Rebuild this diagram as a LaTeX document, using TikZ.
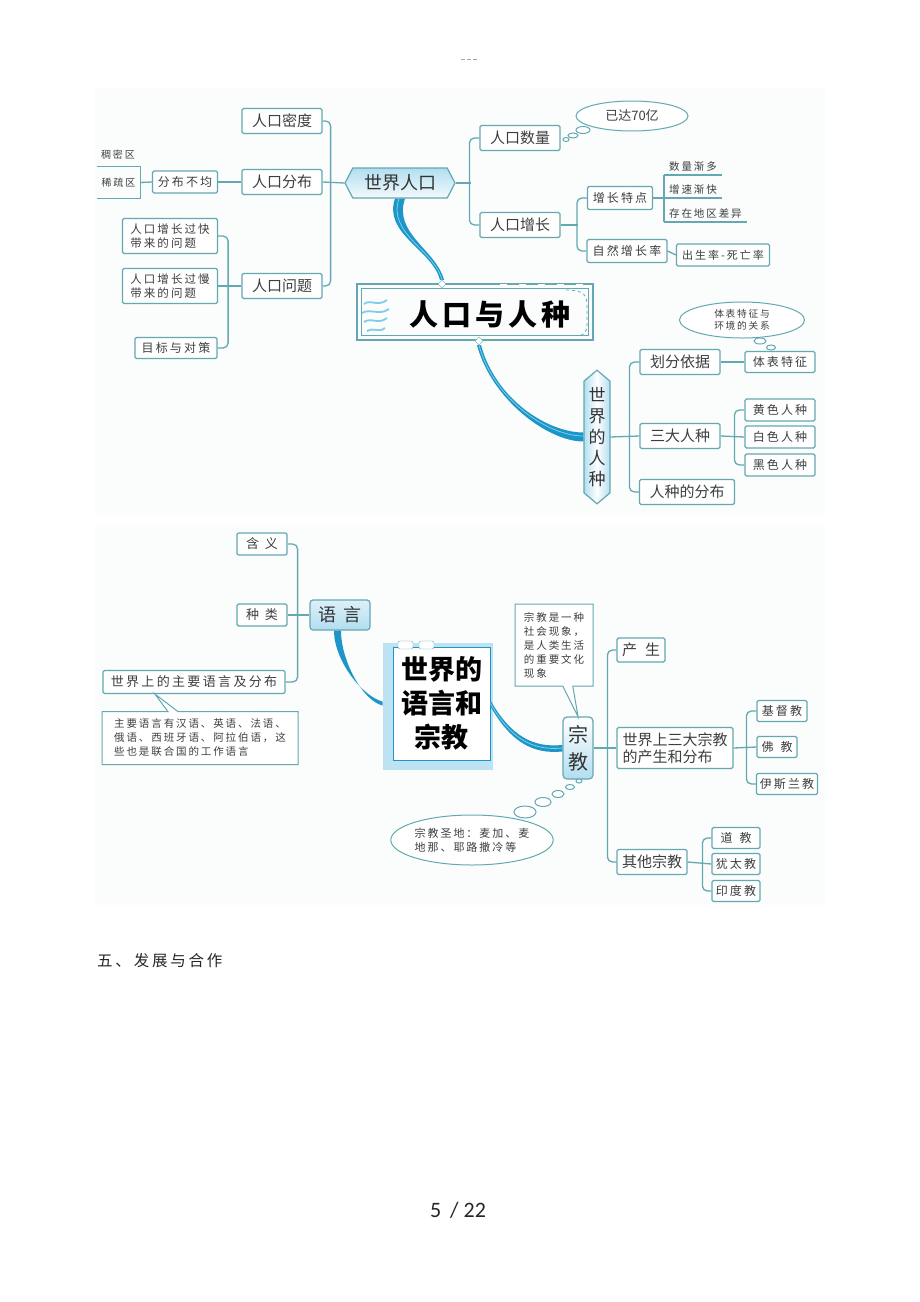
\documentclass[tikz,border=0pt]{standalone}
\usepackage{fontspec}
\setmainfont{Noto Sans CJK SC}
\newfontfamily\lsfont{Noto Sans CJK SC}[LetterSpace=18]
\newfontfamily\numfont{Carlito}
\usetikzlibrary{shapes.symbols,shapes.geometric,shapes.callouts}

\definecolor{linkc}{RGB}{100,168,178}
\definecolor{trunkc}{RGB}{28,150,200}
\definecolor{trunklt}{RGB}{125,205,235}
\definecolor{hubc}{RGB}{178,222,240}
\definecolor{panelc}{RGB}{251,252,252}
\definecolor{inkc}{RGB}{60,62,64}

\tikzset{
  leaf/.style={draw=linkc, line width=1.2pt, fill=white, rounded corners=1.5pt,
    text=inkc, inner sep=2pt, minimum height=25pt, font=\fontsize{15}{17}\selectfont},
  sleaf/.style={leaf, minimum height=22pt, font=\lsfont\fontsize{12}{14}\selectfont},
  hub/.style={draw=linkc, line width=1.2pt, text=black!80, font=\fontsize{18}{22}\selectfont},
  link/.style={draw=linkc, line width=1.3pt, rounded corners=5pt},
  trunk/.style={fill=trunkc},
  glint/.style={draw=trunklt, line width=0.8pt},
  bubble/.style={draw=linkc, line width=1pt, fill=white},
  uline/.style={anchor=south west, inner xsep=5pt, inner ysep=3pt, text=inkc,
    font=\lsfont\fontsize{10.5}{12}\selectfont},
  note/.style={rectangle callout, draw=linkc, line width=1pt, fill=white, text=inkc,
    callout pointer width=10pt, align=left, inner xsep=6pt,
    font=\lsfont\fontsize{10.5}{14}\selectfont},
}

\begin{document}
\begin{tikzpicture}[x=1pt, y=-1pt]
\useasboundingbox (0,0) rectangle (920,1302);

%Panels
\fill[panelc] (95,88) rectangle (825,515);
\fill[panelc] (95,525) rectangle (825,905);

%Header dash
\draw[black!35, line width=1pt, dash pattern=on 4pt off 2pt] (461,59) -- (479,59);

%World population hub
\node[hub, signal, signal to=east and west, signal pointer angle=125,
  minimum width=110pt, minimum height=30pt, top color=hubc, bottom color=white!85!hubc]
  (shijie) at (400,183) {世界人口};

%Left branch: density, distribution, problems
\node[leaf, minimum width=80pt] (midu) at (282,121) {人口密度};
\node[leaf, minimum width=80pt] (fenbu) at (282,182) {人口分布};
\node[leaf, minimum width=80pt] (wenti) at (282,286) {人口问题};
\node[sleaf, minimum width=65pt] (bujun) at (185,182) {分布不均};
\node[text=inkc, minimum width=43pt, minimum height=31pt, inner sep=0pt,
  font=\lsfont\fontsize{10}{12}\selectfont] (xishu) at (118.5,182.5) {稀疏区};
\draw[linkc, line width=1.2pt] (xishu.north west) -- (xishu.north east)
  -- (xishu.south east) -- (xishu.south west);
\node[text=inkc, font=\lsfont\fontsize{10}{12}\selectfont] (choumi) at (118,155) {稠密区};
\node[sleaf, align=left, minimum width=95pt, minimum height=35pt,
  font=\lsfont\fontsize{11.5}{14}\selectfont] (kuai) at (170,236) {人口增长过快\\带来的问题};
\node[sleaf, align=left, minimum width=95pt, minimum height=35pt,
  font=\lsfont\fontsize{11.5}{14}\selectfont] (man) at (170,286) {人口增长过慢\\带来的问题};
\node[sleaf, minimum width=82pt, minimum height=21pt] (duice) at (176,348) {目标与对策};

\draw[link] (midu.east) -- ++(8,0) |- (wenti.east);
\draw[link] (fenbu.east) -- (shijie.west);
\draw[link] (bujun.east) -- (fenbu.west);
\draw[link] (xishu.east) -- (bujun.west);
\draw[link] (kuai.east) -- ++(10,0) |- (duice.east);
\draw[link] (man.east) -- (wenti.west);

%Right branch: number and growth
\node[leaf, minimum width=80pt] (shuliang) at (520,138) {人口数量};
\node[leaf, minimum width=80pt] (zengzhang) at (520,225) {人口增长};
\node[ellipse, draw=linkc, line width=1pt, fill=white, minimum width=112pt, minimum height=30pt,
  text=inkc, font=\fontsize{13}{15}\selectfont] (qishi) at (632,116) {已达70亿};
\draw[bubble] (583,130) ellipse [x radius=7pt, y radius=3.5pt];
\draw[bubble] (573,135.5) ellipse [x radius=5pt, y radius=2.5pt];
\draw[bubble] (566,139.5) ellipse [x radius=3pt, y radius=2pt];
\node[sleaf, minimum width=65pt, minimum height=23pt] (tedian) at (620,198) {增长特点};
\node[sleaf, minimum width=80pt, minimum height=23pt] (zrate) at (627,251) {自然增长率};
\node[uline] (s1) at (664,175) {数量渐多};
\node[uline] (s2) at (664,198) {增速渐快};
\node[uline] (s3) at (664,222) {存在地区差异};
\node[sleaf, minimum width=93pt, font=\lsfont\fontsize{11}{13}\selectfont] (birth) at (723,255) {出生率-死亡率};

\draw[link] (shuliang.west) -- ++(-10,0) |- (zengzhang.west);
\draw[link] (shijie.east) -- ++(15,0);
\draw[link] (tedian.west) -- ++(-10,0) |- (zrate.west);
\draw[link] (zengzhang.east) -- ++(17,0);
\draw[link] (s1.south west) -- (s3.south west);
\draw[link] (s1.south west) -- (s1.south east);
\draw[link] (s2.south west) -- (s2.south east);
\draw[link] (s3.south west) -- (s3.south east);
\draw[link] (tedian.east) -- (s2.south west);
\draw[link] (zrate.east) -- (birth.west);

%Population and race title
\node[minimum width=235pt, minimum height=55pt, inner sep=0pt] (renkou) at (475,312) {};
\draw[linkc, line width=2.2pt] (renkou.north west) rectangle (renkou.south east);
\draw[linkc, line width=0.7pt] ([shift={(4,4)}]renkou.north west) rectangle ([shift={(-4,-4)}]renkou.south east);
\draw[white, line width=1.6pt, dash pattern=on 7pt off 12pt] (500,285) -- (590,285);
\draw[linkc, line width=0.8pt, dashed] (566,290) .. controls (585,290) and (587,296) .. (587,306)
  -- (587,325) .. controls (587,332) and (584,335) .. (578,336);
\draw[trunklt, line width=1.8pt] (364,304) .. controls (370,299) and (378,307) .. (387,300);
\draw[trunklt, line width=1.8pt] (362,313) .. controls (370,308) and (379,316) .. (389,309);
\draw[trunklt, line width=1.8pt] (364,322) .. controls (371,317) and (378,325) .. (387,318);
\draw[trunklt, line width=1.8pt] (367,331) .. controls (373,327) and (379,333) .. (385,328);
\node[text=black, font=\bfseries\fontsize{29}{31}\selectfont] (renkoutxt) at (490,314)
  {人\hspace{4pt}口\hspace{4pt}与\hspace{4pt}人\hspace{4pt}种};
\node[diamond, draw=linkc, fill=white, minimum size=8pt, inner sep=0pt] (dtop) at (442,284) {};
\node[diamond, draw=linkc, fill=white, minimum size=8pt, inner sep=0pt] (dbot) at (479,341) {};

%Race hub
\node[hub, signal, signal to=north and south, signal pointer angle=100, minimum width=26pt,
  minimum height=126pt, inner sep=0pt, left color=hubc, right color=hubc, middle color=white,
  align=center, font=\fontsize{17}{21}\selectfont] (ren) at (597,437) {世\\界\\的\\人\\种};

%Trunks to hubs
\fill[trunkc] ([xshift=-5pt]shijie.south) .. controls +(-12,35) and +(-8,-30) .. ([xshift=-2pt]dtop.north)
  -- ([xshift=2pt]dtop.north) .. controls +(-8,-30) and +(-12,35) .. ([xshift=5pt]shijie.south) -- cycle;
\draw[glint] ([xshift=-1pt]shijie.south) .. controls +(-12,35) and +(-8,-30) .. (dtop.north);
\fill[trunkc] ([xshift=-2pt]dbot.south) .. controls +(15,55) and +(-35,0) .. ([yshift=-4.5pt]ren.west)
  -- ([yshift=4.5pt]ren.west) .. controls +(-35,0) and +(15,55) .. ([xshift=2pt]dbot.south) -- cycle;
\draw[glint] (dbot.south) .. controls +(15,55) and +(-35,0) .. ([yshift=1pt]ren.west);

%Race branches
\node[leaf, minimum width=80pt] (yiju) at (680,362) {划分依据};
\node[leaf, minimum width=80pt] (sanda) at (680,436) {三大人种};
\node[leaf, minimum width=95pt] (fenbur) at (687,492) {人种的分布};
\node[sleaf, minimum width=70pt, minimum height=21pt] (tibiao) at (780,362) {体表特征};
\node[ellipse, draw=linkc, line width=1pt, fill=white, minimum width=125pt, minimum height=36pt,
  inner sep=1pt, align=center, text=inkc, font=\lsfont\fontsize{9.7}{12}\selectfont]
  (guanxi) at (742,320) {体表特征与\\环境的关系};
\draw[bubble] (760,341) ellipse [x radius=6pt, y radius=3pt];
\draw[bubble] (771,347.5) ellipse [x radius=4.5pt, y radius=2.5pt];
\node[sleaf, minimum width=70pt] (huang) at (780,410) {黄色人种};
\node[sleaf, minimum width=70pt] (bai) at (780,437) {白色人种};
\node[sleaf, minimum width=70pt] (hei) at (780,465) {黑色人种};

\draw[link] (yiju.west) -- ++(-10,0) |- (fenbur.west);
\draw[link] (ren.east) -- (sanda.west);
\draw[link] (yiju.east) -- (tibiao.west);
\draw[link] (huang.west) -- ++(-10,0) |- (hei.west);
\draw[link] (sanda.east) -- (bai.west);

%Language branch
\node[sleaf, minimum width=50pt, font=\fontsize{13}{15}\selectfont] (hanyi) at (262,544) {含\hspace{6pt}义};
\node[sleaf, minimum width=50pt, font=\fontsize{13}{15}\selectfont] (zhonglei) at (262,615) {种\hspace{6pt}类};
\node[sleaf, minimum width=182pt, minimum height=23pt, font=\lsfont\fontsize{13}{15}\selectfont]
  (zhuyao) at (194,682) {世界上的主要语言及分布};
\node[hub, rounded corners=3pt, minimum width=60pt, minimum height=30pt,
  top color=white!55!hubc, bottom color=hubc] (yuyan) at (340,615) {语\hspace{7pt}言};
\node[note, minimum width=196pt, minimum height=53pt,
  callout absolute pointer={([xshift=-39pt]zhuyao.south)}] (yuyannote) at (200,738)
  {主要语言有汉语、英语、法语、\\俄语、西班牙语、阿拉伯语，这\\些也是联合国的工作语言};

\draw[link] (hanyi.east) -- ++(10,0) |- (zhuyao.east);
\draw[link] (zhonglei.east) -- (yuyan.west);

%Language and religion title
\fill[hubc!85] (383,643) rectangle (493,770);
\node[draw=trunkc, line width=1pt, fill=white, minimum width=97pt, minimum height=113pt,
  align=center, font=\bfseries\fontsize{27}{34}\selectfont] (lang) at (441.5,703.5)
  {世界的\\语言和\\宗教};
\draw[linkc, fill=white, rounded corners=2pt] (398,641) rectangle (413,649);
\draw[linkc, fill=white, rounded corners=2pt] (419,641) rectangle (434,649);

%Religion hub
\node[hub, rounded corners=4pt, minimum width=30pt, minimum height=62pt, inner sep=0pt,
  top color=white, bottom color=hubc, align=center, font=\fontsize{20}{27}\selectfont]
  (zong) at (578,748) {宗\\教};

\fill[trunkc] ([shift={(-6,0)}]yuyan.south) .. controls +(0,30) and +(-20,-5) .. ([shift={(-10,-2)}]lang.west)
  -- ([shift={(-10,2)}]lang.west) .. controls +(-20,-5) and +(0,30) .. ([shift={(1,0)}]yuyan.south) -- cycle;
\fill[trunkc] ([shift={(0,-3)}]lang.east) .. controls +(20,35) and +(-30,3) .. ([shift={(0,-3)}]zong.west)
  -- ([shift={(0,3.5)}]zong.west) .. controls +(-30,3) and +(20,35) .. ([shift={(0,3)}]lang.east) -- cycle;
\draw[glint] (lang.east) .. controls +(20,35) and +(-30,3) .. (zong.west);

\node[note, minimum width=78pt, minimum height=82pt, inner xsep=6pt,
  callout absolute pointer={(zong.north)}] (shehui) at (554,645)
  {宗教是一种\\社会现象，\\是人类生活\\的重要文化\\现象};
\node[ellipse, draw=linkc, line width=1pt, fill=white, minimum width=157pt, minimum height=50pt,
  inner sep=0pt, align=left, text=inkc, font=\lsfont\fontsize{11}{14}\selectfont]
  (shengdi) at (472,840) {宗教圣地：麦加、麦\\地那、耶路撒冷等};
\draw[bubble] (579,781) ellipse [x radius=3pt, y radius=2pt];
\draw[bubble] (570,787) ellipse [x radius=4.5pt, y radius=2.5pt];
\draw[bubble] (558,794) ellipse [x radius=6pt, y radius=3.5pt];
\draw[bubble] (543,802) ellipse [x radius=8pt, y radius=4.5pt];
\draw[bubble] (525,812) ellipse [x radius=11pt, y radius=6pt];

%Religion branches
\node[leaf, minimum width=48pt, minimum height=24pt] (chansheng) at (641,650) {产\hspace{8pt}生};
\node[leaf, minimum width=116pt, minimum height=41pt, align=left, font=\fontsize{15}{17}\selectfont]
  (sanzong) at (675,748) {世界上三大宗教\\的产生和分布};
\node[leaf, minimum width=70pt] (qita) at (652,862) {其他宗教};
\node[sleaf, minimum width=50pt, minimum height=21pt] (jidu) at (782,711) {基督教};
\node[sleaf, minimum width=40pt, minimum height=21pt, font=\fontsize{12}{14}\selectfont] (fo) at (777,747) {佛\hspace{7pt}教};
\node[sleaf, minimum width=61pt, minimum height=21pt] (yisi) at (787,784) {伊斯兰教};
\node[sleaf, minimum width=48pt, minimum height=21pt, font=\fontsize{12}{14}\selectfont] (dao) at (736,838) {道\hspace{7pt}教};
\node[sleaf, minimum width=48pt, minimum height=21pt] (you) at (736,864) {犹太教};
\node[sleaf, minimum width=48pt, minimum height=21pt] (yin) at (736,891) {印度教};

\draw[link] (chansheng.west) -- ++(-9,0) |- (qita.west);
\draw[link] (zong.east) -- (sanzong.west);
\draw[link] (jidu.west) -- ++(-10,0) |- (yisi.west);
\draw[link] (sanzong.east) -- (fo.west);
\draw[link] (dao.west) -- ++(-9,0) |- (yin.west);
\draw[link] (qita.east) -- (you.west);

%Page text
\node[anchor=west, inner sep=0pt, text=black!85, font=\lsfont\fontsize{15.5}{18}\selectfont] (wu) at (97,961) {五、发展与合作};
\node[text=black!85, font=\numfont\fontsize{22}{26}\selectfont] (page) at (458,1210) {5\hspace{9pt}/ 22};

\end{tikzpicture}
\end{document}
